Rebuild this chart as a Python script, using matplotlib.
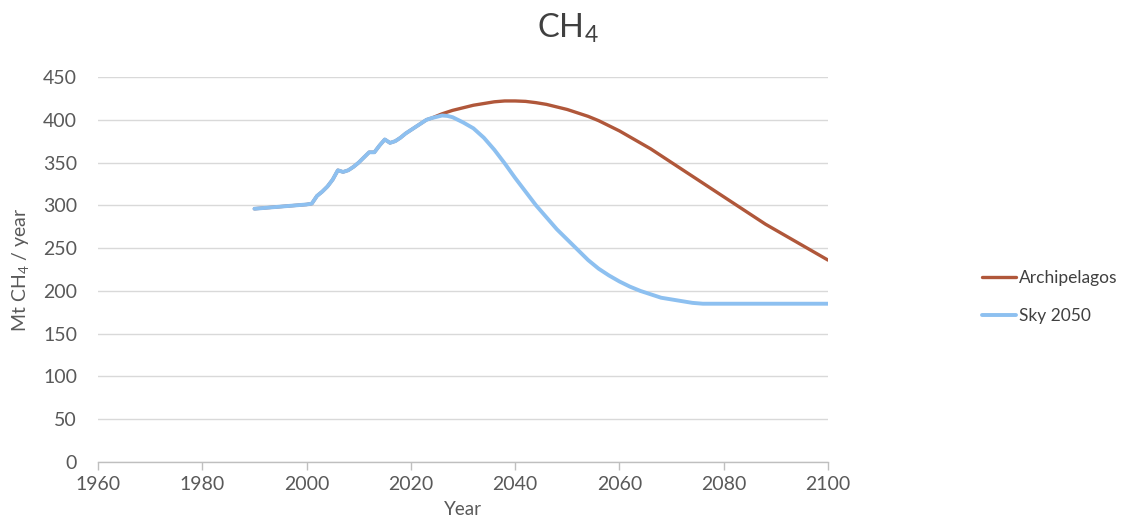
import matplotlib
matplotlib.use("Agg")
import matplotlib.pyplot as plt

plt.rcParams['font.family'] = ['Lato', 'DejaVu Sans']
plt.rcParams['mathtext.fontset'] = 'custom'
plt.rcParams['mathtext.rm'] = 'Lato'
plt.rcParams['mathtext.it'] = 'Lato:italic'
plt.rcParams['mathtext.default'] = 'regular'

# Historic (shared) data
hist_years = [1990, 1992, 1995, 1998, 2000, 2001, 2002, 2003, 2004, 2005, 2006,
              2007, 2008, 2009, 2010, 2011, 2012, 2013, 2014, 2015, 2016, 2017,
              2018, 2019, 2020, 2021, 2022, 2023, 2024]
hist_vals = [296, 297, 298.5, 300, 301, 302, 311, 316, 322, 330, 341,
             339, 341, 345, 350, 356, 362, 362, 370, 377, 373, 375,
             379, 384, 388, 392, 396, 400, 402]

sky_years = [2025, 2026, 2027, 2028, 2030, 2032, 2034, 2036, 2038, 2040, 2042,
             2044, 2046, 2048, 2050, 2052, 2054, 2056, 2058, 2060, 2062, 2064,
             2066, 2068, 2070, 2072, 2074, 2076, 2080, 2090, 2100]
sky_vals = [403.5, 405, 404.5, 403, 397, 390, 379, 365, 349, 332, 316,
            300, 286, 272, 260, 248, 236, 226, 218, 211, 205, 200,
            196, 192, 190, 188, 186, 185, 185, 185, 185]

arch_years = [2026, 2028, 2030, 2032, 2034, 2036, 2038, 2040, 2042, 2044, 2046,
              2048, 2050, 2052, 2054, 2056, 2058, 2060, 2062, 2064, 2066, 2068,
              2070, 2072, 2074, 2076, 2078, 2080, 2082, 2084, 2086, 2088, 2090,
              2092, 2094, 2096, 2098, 2100]
arch_vals = [407, 411, 414, 417, 419, 421, 422, 422, 421.5, 420, 418,
             415, 412, 408, 404, 399, 393, 387, 380, 373, 366, 358,
             350, 342, 334, 326, 318, 310, 302, 294, 286, 278, 271,
             264, 257, 250, 243, 236]

x_ticks = [1960, 1980, 2000, 2020, 2040, 2060, 2080, 2100]
y_ticks = [0, 50, 100, 150, 200, 250, 300, 350, 400, 450]

fig = plt.figure(figsize=(11.36, 5.25), dpi=100)
ax = fig.add_axes([98/1136, 1-462/525, (828-98)/1136, (462-77)/525])

arch_x = hist_years + arch_years
arch_y = hist_vals + arch_vals
sky_x = hist_years + sky_years
sky_y = hist_vals + sky_vals

ax.plot(arch_x, arch_y, color='#b0573a', lw=2.4, label='Archipelagos', zorder=3,
        solid_capstyle='round')
ax.plot(sky_x, sky_y, color='#8dc0f0', lw=2.8, label='Sky 2050', zorder=4,
        solid_capstyle='round')

ax.set_xlim(1960, 2100)
ax.set_ylim(0, 450)
ax.set_xticks(x_ticks)
ax.set_yticks(y_ticks)
ax.grid(axis='y', color='#d9d9d9', lw=1.0)
ax.set_axisbelow(True)
for s in ['top', 'right', 'left']:
    ax.spines[s].set_visible(False)
ax.spines['bottom'].set_color('#bfbfbf')
ax.spines['bottom'].set_linewidth(1.0)
ax.tick_params(axis='y', length=0, labelsize=14, colors='#595959', pad=15)
ax.tick_params(axis='x', length=6, width=1.0, color='#bfbfbf', labelsize=14,
               labelcolor='#595959', direction='out', pad=4)

ax.set_xlabel('Year', fontsize=13.5, color='#595959', labelpad=6)
ax.set_ylabel('Mt CH$_4$ / year', fontsize=14, color='#595959', labelpad=9)
fig.text(0.5, 1-37.5/525, 'CH$_4$', fontsize=23.5, color='#404040',
         ha='center', va='baseline')

leg = fig.legend(loc='center left', bbox_to_anchor=(966/1136, 1-297/525),
                 frameon=False, fontsize=12.5, handlelength=2.0, handletextpad=0.15,
                 labelspacing=1.3, labelcolor='#404040')

fig.savefig('out.png', dpi=100)
